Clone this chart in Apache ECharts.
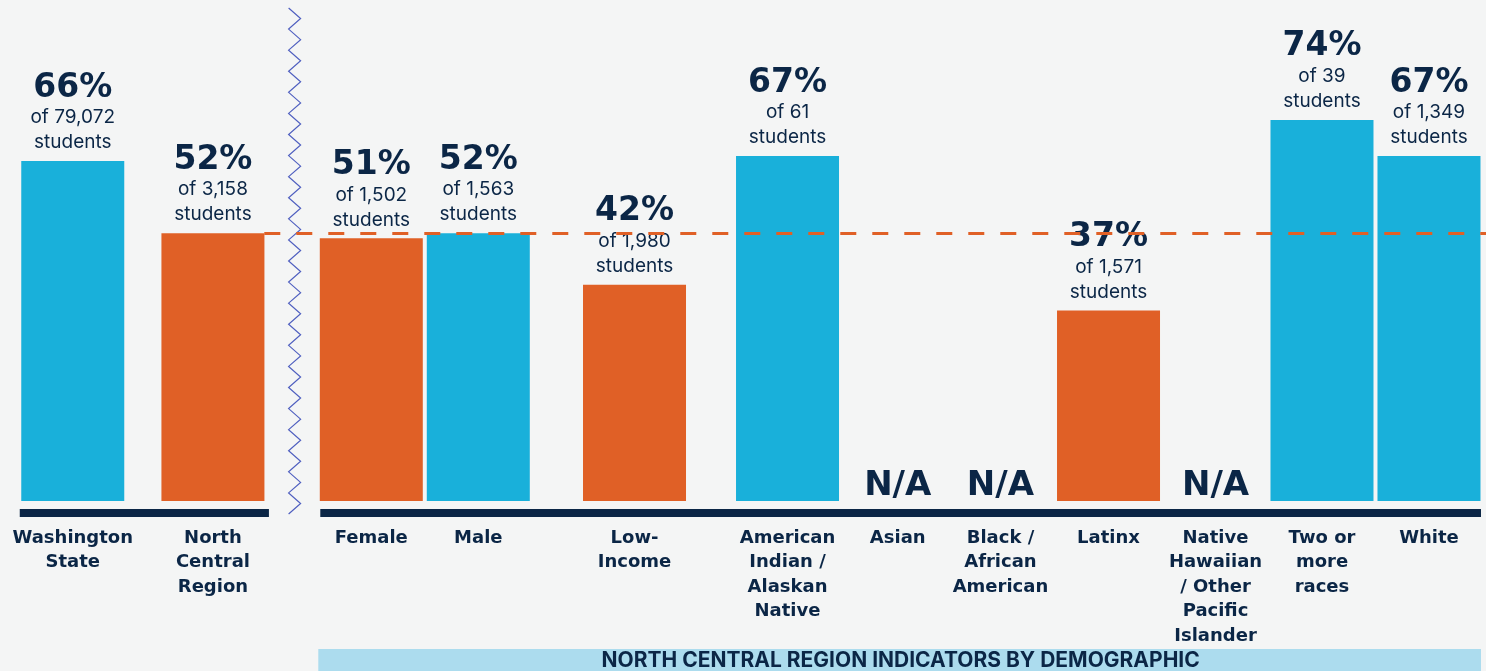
<!DOCTYPE html>
<html>
<head>
<meta charset="utf-8">
<title>North Central Region Indicators</title>
<script src="https://cdn.jsdelivr.net/npm/echarts@6/dist/echarts.min.js"></script>
<style>
    html, body {margin: 0; padding: 0; background: #f4f5f5;}
    #chartDiv {width: 1486px; height: 671px;}
</style>
</head>
<body>
<div id="chartDiv"></div>
<script>
// 数据
var categories = ['Washington\nState', 'North\nCentral\nRegion', 'Female', 'Male', 'Low-\nIncome',
    'American\nIndian /\nAlaskan\nNative', 'Asian', 'Black /\nAfrican\nAmerican', 'Latinx',
    'Native\nHawaiian\n/ Other\nPacific\nIslander', 'Two or\nmore\nraces', 'White'];
var percents = [66, 52, 51, 52, 42, 67, null, null, 37, null, 74, 67];
var studentCounts = ['79,072', '3,158', '1,502', '1,563', '1,980', '61', null, null, '1,571', null, '39', '1,349'];
var bandTitle = 'NORTH CENTRAL REGION INDICATORS BY DEMOGRAPHIC';

// 横轴位置（单位 = 一个柱槽）
var slotPos = [0.68, 1.99, 3.47, 4.47, 5.93, 7.36, 8.39, 9.35, 10.36, 11.36, 12.355, 13.355];
var xMax = 1486 / 107;
var regionIndex = 1;

var blue = '#19b0da', orange = '#e06026', navy = '#0b2646';

var chartDiv = echarts.init(document.getElementById('chartDiv'));

function barColor(i) {
    if (i === 0) return blue;
    if (i === regionIndex) return orange;
    return percents[i] >= percents[regionIndex] ? blue : orange;
}

var barData = [], naData = [], nameData = [];
for (var i = 0; i < categories.length; i++) {
    nameData.push({name: categories[i], value: [slotPos[i], 0]});
    if (percents[i] == null) {
        naData.push([slotPos[i], 0]);
    } else {
        barData.push({value: [slotPos[i], percents[i]], idx: i, itemStyle: {color: barColor(i)}});
    }
}

var option = {
    backgroundColor: '#f4f5f5',
    animation: false,
    grid: {left: 0, right: 0, top: 0, bottom: 170},
    xAxis: {type: 'value', min: 0, max: xMax, show: false},
    yAxis: {type: 'value', min: 0, max: 501 / 5.15, show: false},
    series: [
        {
            type: 'bar',
            data: barData,
            barWidth: 103,
            label: {
                show: true,
                position: 'top',
                distance: 6,
                formatter: function (params) {
                    var k = params.data.idx;
                    return '{p|' + percents[k] + '%}\n{s|of ' + studentCounts[k] + '}\n{s|students}';
                },
                rich: {
                    p: {fontFamily: 'DejaVu Sans', fontWeight: 'bold', fontSize: 33, lineHeight: 34, color: navy},
                    s: {fontFamily: 'Inter', fontSize: 19, lineHeight: 25, color: navy}
                }
            },
            // 地区平均线
            markLine: {
                silent: true,
                symbol: 'none',
                label: {show: false},
                lineStyle: {color: orange, type: [16, 16], width: 3, opacity: 1},
                data: [[
                    {coord: [slotPos[regionIndex] + 0.48, percents[regionIndex]]},
                    {coord: [xMax, percents[regionIndex]]}
                ]]
            },
            z: 2
        },
        {
            type: 'scatter',
            data: naData,
            symbolSize: 0,
            itemStyle: {opacity: 1},
            label: {
                show: true,
                position: 'top',
                distance: 0,
                formatter: 'N/A',
                fontFamily: 'DejaVu Sans',
                fontWeight: 'bold',
                fontSize: 34,
                lineHeight: 30,
                color: navy,
                opacity: 1
            },
            z: 3
        },
        {
            type: 'scatter',
            data: nameData,
            symbolSize: 0,
            itemStyle: {opacity: 1},
            label: {
                show: true,
                position: 'bottom',
                distance: 25,
                formatter: '{b}',
                align: 'center',
                fontFamily: 'DejaVu Sans',
                fontWeight: 'bold',
                fontSize: 18,
                lineHeight: 24.5,
                color: navy,
                opacity: 1
            },
            z: 3
        }
    ]
};
chartDiv.setOption(option);

// 装饰：底线、折线分隔、底部标题条
var px = function (v) { return chartDiv.convertToPixel({xAxisIndex: 0}, v); };
var baseY = chartDiv.convertToPixel({yAxisIndex: 0}, 0);
var seg1Left = px(slotPos[0]) - 53, seg1Right = px(slotPos[regionIndex]) + 56;
var seg2Left = px(slotPos[2]) - 51, seg2Right = px(slotPos[slotPos.length - 1]) + 52;

var zig = [];
var zigX = (seg1Right + seg2Left) / 2;
var steps = 48;
for (var s = 0; s <= steps; s++) {
    zig.push([s % 2 === 0 ? zigX - 6 : zigX + 6, 8 + s * (506 / steps)]);
}

chartDiv.setOption({
    graphic: [
        {type: 'rect', shape: {x: seg1Left, y: baseY + 8, width: seg1Right - seg1Left, height: 8}, style: {fill: navy}},
        {type: 'rect', shape: {x: seg2Left, y: baseY + 8, width: seg2Right - seg2Left, height: 8}, style: {fill: navy}},
        {type: 'polyline', shape: {points: zig}, style: {stroke: '#4f5fc0', lineWidth: 1.2, fill: null}},
        {type: 'rect', shape: {x: seg2Left - 2, y: 649, width: seg2Right - seg2Left + 2, height: 22}, style: {fill: '#acdcee'}},
        {
            type: 'text',
            x: (seg2Left + seg2Right) / 2,
            y: 661,
            style: {
                text: bandTitle,
                fill: navy,
                font: 'bold 21px Inter',
                align: 'center',
                verticalAlign: 'middle'
            }
        }
    ]
});
</script>
</body>
</html>
